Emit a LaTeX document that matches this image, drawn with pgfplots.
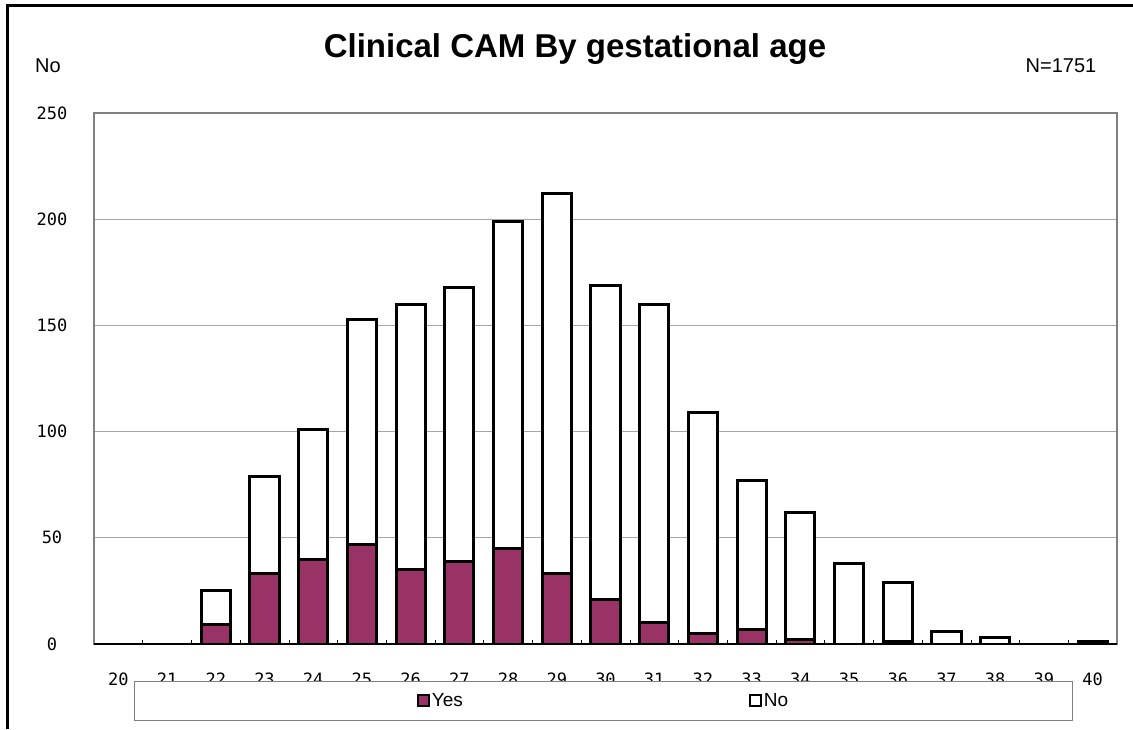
\documentclass[border=0pt]{standalone}
\usepackage{fontspec}
\setmainfont{Liberation Sans}
\newfontfamily\monofont{DejaVu Sans Mono}
\usepackage{pgfplots}
\pgfplotsset{compat=1.18}
\definecolor{yescol}{HTML}{993366}
\definecolor{framegray}{HTML}{808080}
\definecolor{gridgray}{HTML}{A6A6A6}

\begin{document}
\begin{tikzpicture}[x=1pt,y=1pt]
\path[use as bounding box] (0,0) rectangle (1133,729);
\fill[white] (0,0) rectangle (1133,729);
\draw[black, line width=3pt] (7,0) -- (7,723) -- (1133,723);
\node[font=\bfseries\fontsize{33}{33}\selectfont] at (575,680) {Clinical CAM By gestational age};
\node[font=\fontsize{20}{20}\selectfont] at (48,663) {No};
\node[font=\fontsize{20}{20}\selectfont] at (1061,663) {N=1751};
\begin{axis}[
  at={(94pt,85pt)}, anchor=south west,
  scale only axis, width=1023pt, height=531pt,
  xmin=19.5, xmax=40.5, ymin=0, ymax=250,
  ybar stacked, bar width=0.6,
  xtick={20,21,...,40},
  xticklabels={20,21,22,23,24,25,26,27,28,29,30,31,32,33,34,35,36,37,38,39,40},
  ytick={0,50,100,150,200,250},
  yticklabels={0,50,100,150,200,250},
  major tick length=0pt,
  xtick pos=bottom, ytick pos=left,
  extra x ticks={20.5,21.5,...,39.5},
  extra x tick labels={},
  extra x tick style={major tick length=4pt, tick align=inside, grid=none, tick style={black, line width=0.7pt}},
  xticklabel style={font=\monofont\fontsize{17}{17}\selectfont, anchor=center, yshift=-35pt},
  yticklabel style={font=\monofont\fontsize{17}{17}\selectfont, anchor=center, xshift=-42pt},
  ymajorgrids, grid style={gridgray, line width=0.9pt},
  axis line style={framegray, line width=1.2pt},
  legend columns=2,
  legend style={at={(0.498,-0.1073)}, anchor=center, draw=framegray, fill=white, line width=0.8pt,
    font=\fontsize{19}{19}\selectfont, inner xsep=282pt, inner ysep=10.5pt,
    /tikz/every even column/.append style={column sep=284pt}},
  every axis plot/.append style={draw=black, line width=3pt,
    legend image code/.code={\draw[##1, line width=2pt] (0pt,-5.5pt) rectangle (11pt,5.5pt);}},
]
\addplot[fill=yescol] coordinates {(22,9) (23,33) (24,40) (25,47) (26,35) (27,39) (28,45) (29,33) (30,21) (31,10) (32,5) (33,7) (34,2) (35,0) (36,1) (37,0) (38,0) (40,1)};
\addplot[fill=white] coordinates {(22,16) (23,46) (24,61) (25,106) (26,125) (27,129) (28,154) (29,179) (30,148) (31,150) (32,104) (33,70) (34,60) (35,38) (36,28) (37,6) (38,3) (40,0)};
\legend{Yes,No}
\draw[black, line width=1.2pt] (rel axis cs:0,0) -- (rel axis cs:1,0);
\end{axis}
\end{tikzpicture}
\end{document}
